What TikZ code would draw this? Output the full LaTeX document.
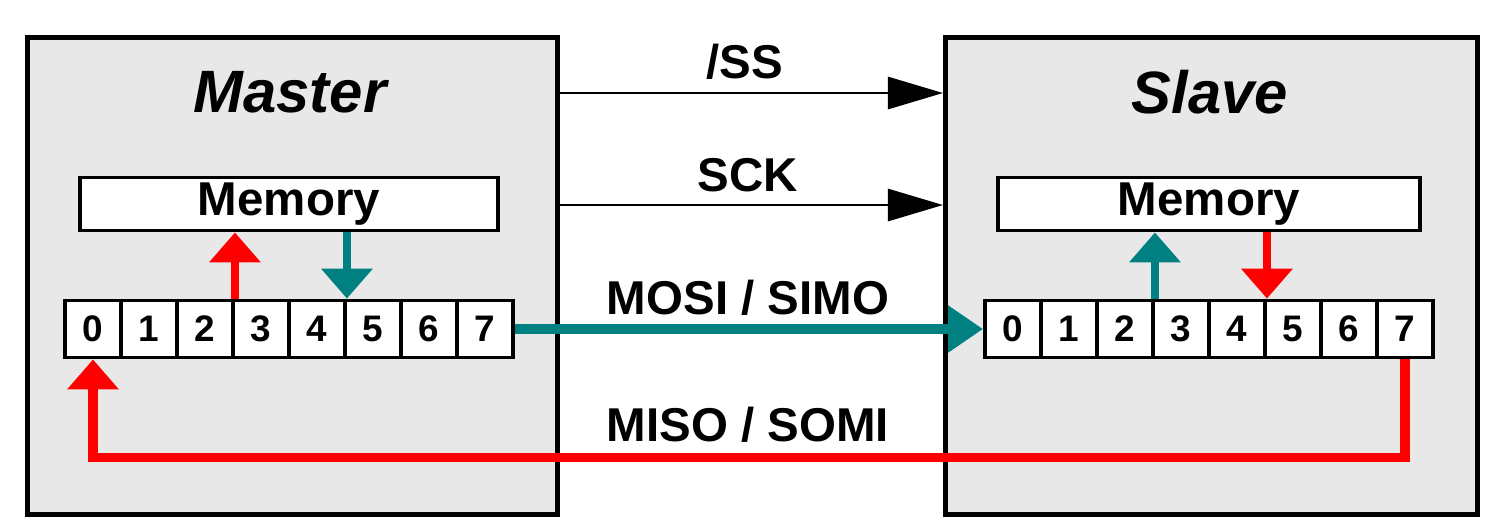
\documentclass[tikz,border=0pt]{standalone}
\usepackage{fontspec}
\setmainfont{Liberation Sans}
\usetikzlibrary{arrows.meta}
\definecolor{tealc}{RGB}{0,128,128}
\definecolor{boxg}{RGB}{232,232,232}
\begin{document}
\begin{tikzpicture}[x=0.01cm,y=-0.01cm,
  box/.style={draw=black,line width=1.3pt,fill=boxg},
  mem/.style={draw=black,line width=1.1pt,fill=white,minimum height=0.53cm,inner sep=0pt,font=\bfseries\fontsize{13.5}{14}\selectfont},
  cell/.style={draw=black,line width=1.1pt,fill=white,minimum width=0.56cm,minimum height=0.57cm,inner sep=0pt,font=\bfseries\fontsize{10.5}{11}\selectfont},
  title/.style={font=\bfseries\itshape\fontsize{17}{17}\selectfont},
  lbl/.style={font=\bfseries\fontsize{13.5}{14}\selectfont},
  sig/.style={line width=0.8pt,-{Triangle[length=0.55cm,width=0.32cm]}},
  ta/.style={tealc,line width=2.5pt,-{Triangle[length=0.3cm,width=0.5cm]}},
  ra/.style={red,line width=2.5pt,-{Triangle[length=0.3cm,width=0.5cm]}}]
\useasboundingbox (0,0) rectangle (1490,526);
\node[box,minimum width=5.3cm,minimum height=4.77cm,anchor=north west] (M) at (25,35) {};
\node[box,minimum width=5.32cm,minimum height=4.77cm,anchor=north west] (S) at (943,35) {};
\node[title] (mt) at (290,92) {Master};
\node[title] (st) at (1210,92) {Slave};
\node[mem,minimum width=4.18cm] (mm) at (289,204) {Memory};
\node[mem,minimum width=4.22cm] (sm) at (1209,204) {Memory};
\foreach \i in {0,...,7}{
  \node[cell] (m\i) at (93+56*\i,329) {\i};
  \node[cell] (s\i) at (1013+56*\i,329) {\i};
}
\coordinate (ss1) at (557,93); \coordinate (ss2) at (943,93);
\coordinate (sc1) at (557,205); \coordinate (sc2) at (943,205);
\draw[sig] (ss1) -- (ss2);
\draw[sig] (sc1) -- (sc2);
\node[lbl] (lss) at (745,62) {/SS};
\node[lbl] (lsck) at (748,175) {SCK};
\draw[tealc,line width=2.6pt,-{Triangle[length=0.35cm,width=0.45cm]}] (m7.east) -- (s0.west);
\node[lbl] (lmosi) at (748,298) {MOSI / SIMO};
\draw[red,line width=2.6pt,-{Triangle[length=0.3cm,width=0.5cm]}] (s7.south) -- ++(0,98) -| (m0.south);
\node[lbl] (lmiso) at (748,425) {MISO / SOMI};
\draw[ra] (m2.north east) -- (m2.north east |- mm.south);
\draw[ta] (m4.north east |- mm.south) -- (m4.north east);
\draw[ta] (s2.north east) -- (s2.north east |- sm.south);
\draw[ra] (s4.north east |- sm.south) -- (s4.north east);
\end{tikzpicture}
\end{document}
